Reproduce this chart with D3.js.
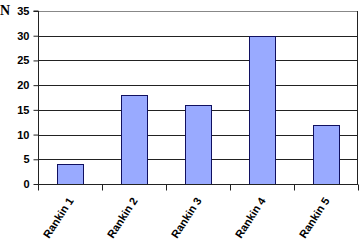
<!DOCTYPE html>
<html><head><meta charset="utf-8">
<script src="https://cdn.jsdelivr.net/npm/d3@7"></script>
<style>body{margin:0;background:#fff}svg{display:block}</style>
</head><body>
<script>
const categories = ["Rankin 1","Rankin 2","Rankin 3","Rankin 4","Rankin 5"];
const values = [4, 18, 16, 30, 12];
const yTicks = [0,5,10,15,20,25,30,35];

const W = 359, H = 244;
const m = {left:38, right:1, top:11, bottom:60};
const svg = d3.select("body").append("svg").attr("width",W).attr("height",H);

const x = d3.scaleBand().domain(categories).range([m.left, W-m.right]).paddingInner(0.6).paddingOuter(0.3);
const y = d3.scaleLinear().domain([0,35]).range([H-m.bottom, m.top]);

// gridlines
svg.append("g").selectAll("line").data(yTicks.filter(d=>d>0)).join("line")
  .attr("x1", m.left).attr("x2", W-m.right)
  .attr("y1", d=>Math.round(y(d))+0.5).attr("y2", d=>Math.round(y(d))+0.5)
  .attr("stroke", d=>d===35?"#888":"#222").attr("stroke-width",1);

// right border
svg.append("line").attr("x1",W-m.right-0.5).attr("x2",W-m.right-0.5)
  .attr("y1",m.top).attr("y2",y(0)).attr("stroke","#222");

// bars
svg.append("g").selectAll("rect").data(values).join("rect")
  .attr("x",(d,i)=>Math.round(x(categories[i]))+0.5)
  .attr("y",d=>Math.round(y(d))+0.5)
  .attr("width",Math.round(x.bandwidth()))
  .attr("height",d=>Math.round(y(0))-Math.round(y(d)))
  .attr("fill","#99aaff").attr("stroke","#101060").attr("stroke-width",1);

// y axis
const ya = svg.append("g").attr("transform",`translate(${m.left+0.5},0)`)
  .call(d3.axisLeft(y).tickValues(yTicks).tickSize(5).tickPadding(4));
ya.select(".domain").attr("stroke","#222").attr("d",`M-5,${m.top}H0V${y(0)+6}`);
ya.selectAll(".tick line").attr("stroke","#222");
ya.selectAll("text").attr("font-family","Arial, Liberation Sans, sans-serif").attr("font-weight","bold").attr("font-size",11).attr("fill","#000");

// x axis
const xa = svg.append("g").attr("transform",`translate(0,${Math.round(y(0))+0.5})`);
xa.append("line").attr("x1",m.left).attr("x2",W-m.right).attr("stroke","#222");
const bounds = d3.range(categories.length+1).map(i=>m.left + i*(W-m.right-m.left)/categories.length);
xa.selectAll(".tk").data(bounds).join("line").attr("class","tk")
  .attr("x1",d=>Math.round(d)+0.5).attr("x2",d=>Math.round(d)+0.5).attr("y1",0).attr("y2",6).attr("stroke","#222");
xa.selectAll("text").data(categories).join("text")
  .attr("transform",d=>`translate(${x(d)+x.bandwidth()/2+4},${16}) rotate(-57)`)
  .attr("text-anchor","end")
  .attr("font-family","Arial, Liberation Sans, sans-serif").attr("font-weight","bold").attr("font-size",11)
  .text(d=>d);

// N label
svg.append("text").attr("x",0).attr("y",15).attr("font-family","Times New Roman, Liberation Serif, serif")
  .attr("font-weight","bold").attr("font-size",14).text("N");
</script>
</body></html>
